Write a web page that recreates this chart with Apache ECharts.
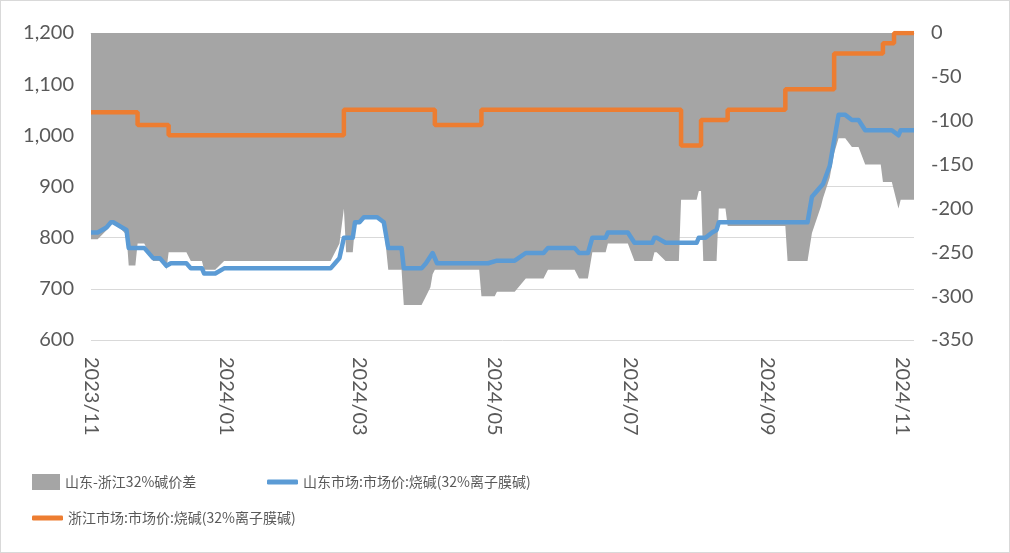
<!DOCTYPE html>
<html>
<head>
<meta charset="utf-8">
<script src="https://cdn.jsdelivr.net/npm/echarts@6/dist/echarts.min.js"></script>
<style>
html,body{margin:0;padding:0;background:#fff;}
#c{width:1010px;height:553px;box-sizing:border-box;border:1px solid #d9d9d9;}
</style>
</head>
<body>
<div id="c"></div>
<script>
const seriesNames = ['山东-浙江32%碱价差', '山东市场:市场价:烧碱(32%离子膜碱)', '浙江市场:市场价:烧碱(32%离子膜碱)'];
const tickDates = ['2023-11-01','2024-01-01','2024-03-01','2024-05-01','2024-07-01','2024-09-01','2024-11-01'];
const axisStart = '2023-11-01';
const axisEnd = '2024-11-06';

// 山东-浙江价差 (right axis)
const spreadData = [
['2023-11-01',-235],['2023-11-04',-235],['2023-11-08',-225],['2023-11-10',-215],['2023-11-11',-215],
['2023-11-15',-225],['2023-11-17',-230],['2023-11-18',-265],['2023-11-21',-265],['2023-11-22',-240],
['2023-11-25',-240],['2023-11-29',-260],['2023-12-04',-260],['2023-12-05',-270],['2023-12-06',-250],
['2023-12-14',-250],['2023-12-16',-260],['2023-12-21',-260],['2023-12-22',-270],['2023-12-27',-270],
['2023-12-31',-260],['2024-02-17',-260],['2024-02-19',-250],['2024-02-21',-240],['2024-02-22',-220],
['2024-02-23',-200],['2024-02-24',-250],['2024-02-27',-250],['2024-02-28',-220],['2024-03-03',-210],
['2024-03-09',-210],['2024-03-12',-220],['2024-03-14',-270],['2024-03-20',-270],['2024-03-21',-310],
['2024-03-29',-310],['2024-03-31',-300],['2024-04-02',-290],['2024-04-03',-275],['2024-04-04',-270],
['2024-04-24',-270],['2024-04-25',-300],['2024-05-01',-300],['2024-05-02',-295],['2024-05-10',-295],
['2024-05-15',-280],['2024-05-23',-280],['2024-05-25',-270],['2024-06-06',-270],['2024-06-08',-280],
['2024-06-12',-280],['2024-06-14',-250],['2024-06-20',-250],['2024-06-21',-240],['2024-06-30',-240],
['2024-07-03',-260],['2024-07-11',-260],['2024-07-12',-250],['2024-07-13',-250],['2024-07-17',-260],
['2024-07-23',-260],['2024-07-24',-190],['2024-07-31',-190],['2024-08-01',-180],['2024-08-02',-180],
['2024-08-03',-260],['2024-08-09',-260],['2024-08-10',-200],['2024-08-13',-200],['2024-08-14',-220],
['2024-09-09',-220],['2024-09-10',-260],['2024-09-19',-260],['2024-09-21',-228],['2024-09-25',-198],
['2024-09-26',-188],['2024-09-29',-165],['2024-10-01',-137],['2024-10-03',-120],['2024-10-06',-120],
['2024-10-09',-130],['2024-10-12',-130],['2024-10-15',-150],['2024-10-22',-150],['2024-10-23',-170],
['2024-10-27',-170],['2024-10-30',-200],['2024-10-31',-190],['2024-11-06',-190]
];

// 山东市场价 (left axis)
const shandongData = [
['2023-11-01',810],['2023-11-04',810],['2023-11-08',820],['2023-11-10',830],['2023-11-11',830],
['2023-11-15',820],['2023-11-17',815],['2023-11-18',780],['2023-11-25',780],['2023-11-29',760],
['2023-12-02',760],['2023-12-05',745],['2023-12-07',750],['2023-12-14',750],['2023-12-16',740],
['2023-12-21',740],['2023-12-22',730],['2023-12-27',730],['2023-12-31',740],['2024-02-17',740],
['2024-02-19',750],['2024-02-21',760],['2024-02-22',780],['2024-02-23',800],['2024-02-27',800],
['2024-02-28',830],['2024-03-01',830],['2024-03-03',840],['2024-03-09',840],['2024-03-12',830],
['2024-03-14',780],['2024-03-20',780],['2024-03-21',740],['2024-03-29',740],['2024-03-31',750],
['2024-04-03',770],['2024-04-05',750],['2024-04-28',750],['2024-05-02',755],['2024-05-10',755],
['2024-05-15',770],['2024-05-23',770],['2024-05-25',780],['2024-06-06',780],['2024-06-08',770],
['2024-06-12',770],['2024-06-14',800],['2024-06-20',800],['2024-06-21',810],['2024-06-30',810],
['2024-07-03',790],['2024-07-11',790],['2024-07-12',800],['2024-07-13',800],['2024-07-17',790],
['2024-07-31',790],['2024-08-01',800],['2024-08-04',800],['2024-08-07',810],['2024-08-09',815],
['2024-08-10',830],['2024-09-19',830],['2024-09-21',880],['2024-09-25',900],['2024-09-26',905],
['2024-09-29',940],['2024-10-01',990],['2024-10-03',1040],['2024-10-06',1040],['2024-10-09',1030],
['2024-10-12',1030],['2024-10-15',1010],['2024-10-27',1010],['2024-10-30',1000],['2024-10-31',1010],
['2024-11-06',1010]
];

// 浙江市场价 (left axis, step changes)
const zhejiangData = [
['2023-11-01',1045],['2023-11-22',1020],['2023-12-06',1000],['2024-02-23',1050],['2024-04-04',1020],
['2024-04-25',1050],['2024-07-24',980],['2024-08-02',1030],['2024-08-14',1050],['2024-09-09',1090],
['2024-10-01',1160],['2024-10-23',1180],['2024-10-28',1200],['2024-11-06',1200]
];

function toTime(s){ const p = s.split('-').map(Number); return new Date(p[0], p[1]-1, p[2]).getTime(); }
function conv(arr){ return arr.map(d => [toTime(d[0]), d[1]]); }

const numFont = 'Lato, "Liberation Sans", sans-serif';
const cjkFont = '"Noto Sans CJK SC", "Noto Sans", sans-serif';
const labelColor = '#595959';
const legendText = {fontFamily: cjkFont, fontSize: 14, color: labelColor, lineHeight: 16};
const tickValues = tickDates.map(toTime);

const chart = echarts.init(document.getElementById('c'), null, {renderer: 'canvas'});
chart.setOption({
  animation: false,
  grid: {left: 90, right: 95, top: 32, bottom: 212, containLabel: false},
  legend: [
    {data: [seriesNames[0]], left: 31, top: 473, padding: 0, icon: 'rect', itemWidth: 28, itemHeight: 16, itemGap: 6, textStyle: legendText},
    {data: [seriesNames[1]], left: 266, top: 473, padding: 0, icon: 'roundRect', itemWidth: 31, itemHeight: 5, textStyle: legendText},
    {data: [seriesNames[2]], left: 31, top: 509, padding: 0, icon: 'roundRect', itemWidth: 31, itemHeight: 5, textStyle: legendText}
  ],
  xAxis: {
    type: 'value',
    min: toTime(axisStart),
    max: toTime(axisEnd),
    axisLine: {show: true, lineStyle: {color: '#d9d9d9', width: 1}},
    axisTick: {show: true, length: 7, lineStyle: {color: '#d9d9d9'}, customValues: tickValues},
    axisLabel: {
      customValues: tickValues,
      rotate: -90,
      margin: 17,
      fontFamily: numFont,
      fontSize: 20,
      color: labelColor,
      formatter: function (v) {
        const d = new Date(v);
        const m = d.getMonth() + 1;
        return d.getFullYear() + '/' + (m < 10 ? '0' + m : m);
      }
    },
    splitLine: {show: false}
  },
  yAxis: [
    {
      type: 'value', min: 600, max: 1200, interval: 100,
      axisLine: {show: false}, axisTick: {show: false},
      splitLine: {show: true, lineStyle: {color: '#d9d9d9', width: 1}},
      axisLabel: {
        margin: 17, fontFamily: numFont, fontSize: 20, color: labelColor,
        formatter: function (v) { return v.toLocaleString('en-US'); }
      }
    },
    {
      type: 'value', min: -350, max: 0, interval: 50, position: 'right',
      axisLine: {show: false}, axisTick: {show: false}, splitLine: {show: false},
      axisLabel: {margin: 17, fontFamily: numFont, fontSize: 20, color: labelColor}
    }
  ],
  series: [
    {
      name: seriesNames[0], type: 'line', yAxisIndex: 1, data: conv(spreadData),
      symbol: 'none', color: '#a5a5a5',
      lineStyle: {width: 0, color: '#a5a5a5'},
      areaStyle: {color: '#a5a5a5', opacity: 1, origin: 'auto'},
      z: 1
    },
    {
      name: seriesNames[1], type: 'line', yAxisIndex: 0, data: conv(shandongData),
      symbol: 'none', color: '#5b9bd5',
      lineStyle: {width: 4.5, color: '#5b9bd5', join: 'round'},
      z: 3
    },
    {
      name: seriesNames[2], type: 'line', yAxisIndex: 0, data: conv(zhejiangData),
      symbol: 'none', step: 'end', color: '#ed7d31',
      lineStyle: {width: 4.5, color: '#ed7d31'},
      z: 4
    }
  ]
});
</script>
</body>
</html>
